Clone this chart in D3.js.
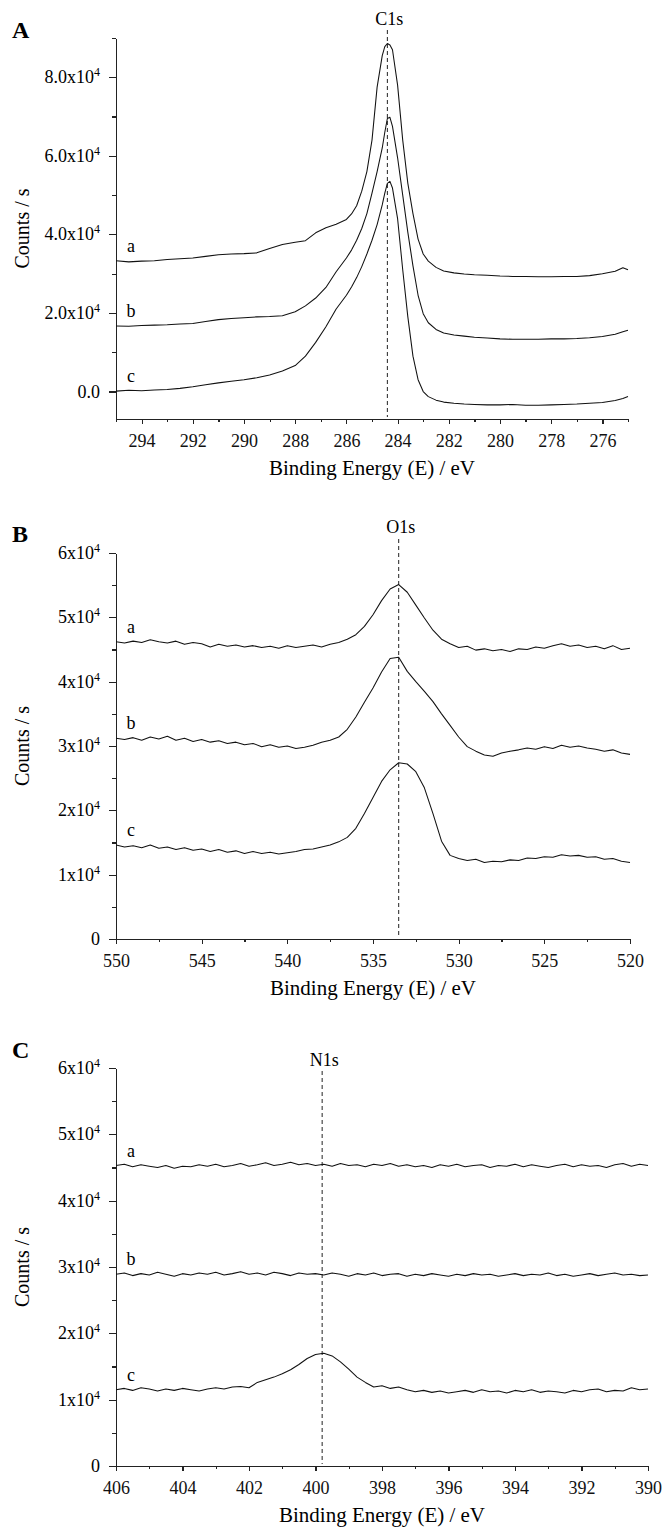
<!DOCTYPE html>
<meta charset="utf-8">
<head>
	<title>XPS C1s / O1s / N1s</title>
</head>

<style>
body{
	margin: 0;
	background: #fff;
}
svg{
	display: block;
	font-family: "Liberation Serif", "Times New Roman", serif;
}
.axis path, .axis line{
	stroke: #222;
	stroke-width: 1.2;
	shape-rendering: crispEdges;
}
.axis text{
	font-size: 18px;
	fill: #111;
}
.spec{
	fill: none;
	stroke: #111;
	stroke-width: 1.05;
	stroke-linejoin: round;
}
.peak{
	stroke: #222;
	stroke-width: 1;
	stroke-dasharray: 4,3;
}
</style>

<body>
<svg id="chart" width="666" height="1528"></svg>

<script src="https://cdnjs.cloudflare.com/ajax/libs/d3/7.8.5/d3.min.js"></script>
<script>

// ---- panel A : C1s (counts in 1e3 / s)
var c1sEnergy = [295, 294.5, 294, 293.5, 293, 292.5, 292, 291.5, 291, 290.5, 290, 289.5, 289, 288.5, 288, 287.6, 287.2, 286.8, 286.4, 286,
	285.8, 285.6, 285.4, 285.2, 285.0, 284.8, 284.6, 284.5, 284.4, 284.3, 284.2, 284.0, 283.8, 283.6, 283.4, 283.2, 283.0, 282.8, 282.5, 282.2,
	281.8, 281.4, 281, 280.5, 280, 279.5, 279, 278.5, 278, 277.5, 277, 276.5, 276, 275.5, 275.2, 275];
var c1sA = [33.3, 33.0, 33.2, 33.3, 33.6, 33.8, 34.0, 34.4, 34.8, 35.0, 35.1, 35.3, 36.4, 37.4, 38.0, 38.4, 40.4, 41.7, 42.6, 43.8,
	45.2, 47.3, 51.0, 56.0, 64.0, 77.5, 85.5, 87.8, 88.6, 88.2, 87.0, 78.0, 64.0, 53.0, 45.3, 38.8, 35.0, 33.2, 31.6, 30.7,
	30.2, 29.9, 29.7, 29.6, 29.4, 29.3, 29.3, 29.2, 29.2, 29.3, 29.3, 29.5, 30.0, 30.6, 31.5, 31.0];
var c1sB = [16.7, 16.6, 16.8, 16.9, 17.0, 17.2, 17.3, 17.8, 18.3, 18.6, 18.8, 19.0, 19.1, 19.3, 20.3, 21.8, 23.8, 26.5, 30.5, 34.0,
	36.0, 38.5, 41.5, 45.3, 50.5, 56.0, 62.0, 66.0, 69.5, 69.8, 67.5, 59.5, 50.0, 40.5, 32.0, 24.5, 19.8, 17.5, 15.8, 14.9,
	14.4, 14.1, 13.8, 13.6, 13.4, 13.3, 13.3, 13.3, 13.4, 13.4, 13.5, 13.7, 14.0, 14.6, 15.2, 15.6];
var c1sC = [0.1, 0.3, 0.2, 0.4, 0.5, 0.8, 1.2, 1.7, 2.2, 2.6, 3.0, 3.5, 4.2, 5.2, 6.6, 9.0, 12.5, 16.5, 21.0, 24.5,
	26.6, 29.0, 31.8, 35.0, 38.5, 42.5, 47.5, 50.5, 53.0, 53.5, 51.8, 44.0, 31.0, 19.0, 9.0, 3.0, 0.0, -1.3, -2.2, -2.7,
	-3.0, -3.2, -3.3, -3.4, -3.4, -3.3, -3.5, -3.5, -3.4, -3.3, -3.2, -3.0, -2.8, -2.3, -1.8, -1.3];

// ---- panel B : O1s
var o1sEnergy = [550, 549.5, 549, 548.5, 548, 547.5, 547, 546.5, 546, 545.5, 545, 544.5, 544, 543.5, 543, 542.5, 542, 541.5, 541, 540.5,
	540, 539.5, 539, 538.5, 538, 537.5, 537, 536.5, 536, 535.5, 535, 534.5, 534, 533.5, 533, 532.5, 532, 531.5, 531, 530.5,
	530, 529.5, 529, 528.5, 528, 527.5, 527, 526.5, 526, 525.5, 525, 524.5, 524, 523.5, 523, 522.5, 522, 521.5, 521, 520.5, 520];
var o1sA = [46.2, 46.0, 46.3, 46.1, 46.5, 46.2, 46.0, 46.3, 45.8, 46.1, 45.9, 45.4, 45.8, 45.5, 45.7, 45.4, 45.6, 45.3, 45.5, 45.2,
	45.6, 45.3, 45.5, 45.7, 45.4, 45.8, 46.1, 46.6, 47.3, 48.6, 50.4, 52.6, 54.4, 55.1, 53.9, 51.9, 49.9, 48.0, 46.6, 45.9,
	45.3, 45.5, 44.9, 45.1, 44.8, 45.0, 44.7, 45.1, 45.0, 45.4, 45.2, 45.6, 45.9, 45.5, 45.7, 45.3, 45.5, 45.1, 45.6, 45.0, 45.2];
var o1sB = [31.2, 31.0, 31.3, 30.9, 31.4, 31.1, 31.5, 30.9, 31.2, 30.7, 31.0, 30.6, 30.8, 30.4, 30.6, 30.2, 30.4, 29.9, 30.2, 29.8,
	30.0, 29.6, 29.8, 30.1, 30.6, 30.9, 31.4, 32.6, 34.5, 36.8, 39.0, 41.5, 43.6, 43.8, 41.6, 40.0, 38.5, 36.9, 35.0, 33.2,
	31.4, 29.9, 29.2, 28.6, 28.4, 28.9, 29.2, 29.4, 29.7, 29.5, 29.9, 29.6, 30.1, 29.8, 30.0, 29.7, 29.5, 29.2, 29.4, 28.9, 28.7];
var o1sC = [14.6, 14.3, 14.5, 14.2, 14.6, 14.1, 14.3, 13.9, 14.2, 13.8, 14.0, 13.6, 13.9, 13.5, 13.7, 13.3, 13.6, 13.3, 13.5, 13.2,
	13.4, 13.6, 13.9, 14.0, 14.3, 14.6, 15.1, 15.8, 17.2, 19.5, 22.0, 24.5, 26.3, 27.4, 27.2, 26.0, 23.5, 19.5, 15.2, 13.0,
	12.5, 12.2, 12.4, 11.9, 12.1, 12.0, 12.3, 12.2, 12.6, 12.5, 12.8, 12.7, 13.1, 12.9, 13.0, 12.7, 12.8, 12.4, 12.5, 12.1, 11.9];

// ---- panel C : N1s
var n1sEnergy = [406, 405.75, 405.5, 405.25, 405, 404.75, 404.5, 404.25, 404, 403.75, 403.5, 403.25, 403, 402.75, 402.5, 402.25,
	402, 401.75, 401.5, 401.25, 401, 400.75, 400.5, 400.25, 400, 399.75, 399.5, 399.25, 399, 398.75, 398.5, 398.25,
	398, 397.75, 397.5, 397.25, 397, 396.75, 396.5, 396.25, 396, 395.75, 395.5, 395.25, 395, 394.75, 394.5, 394.25,
	394, 393.75, 393.5, 393.25, 393, 392.75, 392.5, 392.25, 392, 391.75, 391.5, 391.25, 391, 390.75, 390.5, 390.25, 390];
var n1sA = [45.3, 45.5, 45.1, 45.4, 45.2, 45.0, 45.3, 44.9, 45.2, 45.1, 45.4, 45.2, 45.5, 45.1, 45.3, 45.6, 45.2, 45.4, 45.7, 45.3,
	45.5, 45.8, 45.4, 45.6, 45.3, 45.5, 45.2, 45.6, 45.3, 45.4, 45.1, 45.5, 45.3, 45.6, 45.2, 45.4, 45.1, 45.3, 45.0, 45.4,
	45.2, 45.5, 45.1, 45.3, 45.4, 45.0, 45.3, 45.2, 45.5, 45.1, 45.4, 45.2, 45.0, 45.3, 45.5, 45.1, 45.4, 45.2, 45.3, 45.0,
	45.4, 45.6, 45.2, 45.5, 45.3];
var n1sB = [28.9, 29.1, 28.7, 29.0, 28.8, 29.2, 28.9, 28.6, 29.0, 28.8, 29.1, 28.9, 29.2, 28.8, 29.0, 29.3, 28.9, 29.1, 28.8, 29.2,
	29.0, 28.7, 29.1, 28.9, 29.0, 28.8, 29.1, 28.9, 28.6, 29.0, 28.8, 29.1, 28.7, 28.9, 29.0, 28.6, 28.9, 28.7, 29.0, 28.8,
	28.6, 28.9, 28.7, 29.0, 28.8, 28.9, 28.6, 28.8, 29.0, 28.7, 28.9, 28.8, 29.1, 28.7, 28.9, 28.6, 28.8, 29.0, 28.7, 28.9,
	29.1, 28.8, 28.9, 28.7, 28.8];
var n1sC = [11.5, 11.7, 11.4, 11.8, 11.6, 11.3, 11.6, 11.4, 11.7, 11.5, 11.3, 11.6, 11.8, 11.6, 11.9, 12.0, 11.8, 12.6, 13.0, 13.4,
	13.9, 14.5, 15.3, 16.2, 16.8, 17.0, 16.6, 15.7, 14.6, 13.4, 12.6, 11.9, 12.1, 11.7, 11.9, 11.5, 11.2, 11.4, 11.1, 11.3,
	11.0, 11.2, 11.4, 11.1, 11.5, 11.2, 11.3, 11.0, 11.4, 11.2, 11.5, 11.1, 11.3, 11.2, 11.0, 11.4, 11.2, 11.5, 11.6, 11.2,
	11.4, 11.3, 11.8, 11.5, 11.6];

var curveNames = ['a', 'b', 'c'];

// ticks
var xMajorA = [294, 292, 290, 288, 286, 284, 282, 280, 278, 276];
var xMinorA = [295, 293, 291, 289, 287, 285, 283, 281, 279, 277, 275];
var yMajorA = [0, 20000, 40000, 60000, 80000];
var yMinorA = [10000, 30000, 50000, 70000, 90000];
var yLabelsA = ['0.0', '2.0x10^4', '4.0x10^4', '6.0x10^4', '8.0x10^4'];

var xMajorB = [550, 545, 540, 535, 530, 525, 520];
var xMinorB = [547.5, 542.5, 537.5, 532.5, 527.5, 522.5];
var xMajorC = [406, 404, 402, 400, 398, 396, 394, 392, 390];
var xMinorC = [405, 403, 401, 399, 397, 395, 393, 391];
var yMajorBC = [0, 10000, 20000, 30000, 40000, 50000, 60000];
var yMinorBC = [5000, 15000, 25000, 35000, 45000, 55000];
var yLabelsBC = ['0', '1x10^4', '2x10^4', '3x10^4', '4x10^4', '5x10^4', '6x10^4'];

var panels = [
	{letter: 'A', letterY: 38, energy: c1sEnergy, series: [c1sA, c1sB, c1sC],
	 xDomain: [295, 275], yDomain: [-7000, 90000], left: 116, right: 628, top: 38, bottom: 419,
	 xMajor: xMajorA, xMinor: xMinorA, yMajor: yMajorA, yMinor: yMinorA, yLabels: yLabelsA,
	 peak: 284.4, peakName: 'C1s', peakLabelY: 25, dashTop: 30},
	{letter: 'B', letterY: 542, energy: o1sEnergy, series: [o1sA, o1sB, o1sC],
	 xDomain: [550, 520], yDomain: [0, 60000], left: 116, right: 630, top: 553, bottom: 939,
	 xMajor: xMajorB, xMinor: xMinorB, yMajor: yMajorBC, yMinor: yMinorBC, yLabels: yLabelsBC,
	 peak: 533.5, peakName: 'O1s', peakLabelY: 533, dashTop: 539},
	{letter: 'C', letterY: 1058, energy: n1sEnergy, series: [n1sA, n1sB, n1sC],
	 xDomain: [406, 390], yDomain: [0, 60000], left: 116, right: 648, top: 1068, bottom: 1466,
	 xMajor: xMajorC, xMinor: xMinorC, yMajor: yMajorBC, yMinor: yMinorBC, yLabels: yLabelsBC,
	 peak: 399.8, peakName: 'N1s', peakLabelY: 1066, dashTop: 1071}
];

var svg = d3.select('#chart');

function drawPanel(p){
	var x = d3.scaleLinear().domain(p.xDomain).range([p.left, p.right]);
	var y = d3.scaleLinear().domain(p.yDomain).range([p.bottom, p.top]);
	var g = svg.append('g');

	// x axis
	g.append('g').attr('class', 'axis')
		.attr('transform', 'translate(0,' + p.bottom + ')')
		.call(d3.axisBottom(x).tickValues(p.xMinor).tickSize(3).tickSizeOuter(0).tickFormat(''));
	var xa = g.append('g').attr('class', 'axis')
		.attr('transform', 'translate(0,' + p.bottom + ')')
		.call(d3.axisBottom(x).tickValues(p.xMajor).tickSize(5).tickSizeOuter(0).tickFormat(d3.format('d')));
	xa.attr('font-size', null).attr('font-family', null);
	xa.selectAll('text').attr('y', 15);

	// y axis
	g.append('g').attr('class', 'axis')
		.attr('transform', 'translate(' + p.left + ',0)')
		.call(d3.axisLeft(y).tickValues(p.yMinor).tickSize(4).tickSizeOuter(0).tickFormat(''));
	var ya = g.append('g').attr('class', 'axis')
		.attr('transform', 'translate(' + p.left + ',0)')
		.call(d3.axisLeft(y).tickValues(p.yMajor).tickSize(7).tickSizeOuter(0).tickFormat(''));
	ya.attr('font-size', null).attr('font-family', null);

	p.yMajor.forEach(function(v, i){
		var parts = p.yLabels[i].split('^');
		var t = g.append('text')
			.attr('x', p.left - 16)
			.attr('y', y(v) + 6)
			.attr('text-anchor', 'end')
			.style('font-size', '18px');
		t.append('tspan').text(parts[0]);
		if(parts[1]){
			t.append('tspan').attr('dy', -7).style('font-size', '12px').text(parts[1]);
		}
	});

	// peak position
	g.append('line').attr('class', 'peak')
		.attr('x1', x(p.peak)).attr('x2', x(p.peak))
		.attr('y1', p.dashTop).attr('y2', p.bottom - 2);
	g.append('text')
		.attr('x', x(p.peak) + 2)
		.attr('y', p.peakLabelY)
		.attr('text-anchor', 'middle')
		.style('font-size', '18px')
		.text(p.peakName);

	// spectra
	var line = d3.line()
		.x(function(d){ return x(d[0]); })
		.y(function(d){ return y(d[1] * 1000); });

	p.series.forEach(function(s, k){
		var pts = p.energy.map(function(e, i){ return [e, s[i]]; });
		g.append('path').attr('class', 'spec').attr('d', line(pts));
		g.append('text')
			.attr('x', x(pts[0][0]) + 15)
			.attr('y', y(pts[0][1] * 1000) - 9)
			.attr('text-anchor', 'middle')
			.style('font-size', '18px')
			.text(curveNames[k]);
	});

	// titles
	g.append('text')
		.attr('x', (p.left + p.right) / 2)
		.attr('y', p.bottom + 56)
		.attr('text-anchor', 'middle')
		.style('font-size', '21px')
		.text('Binding Energy (E) / eV');
	g.append('text')
		.attr('transform', 'translate(29,' + (p.top + p.bottom) / 2 + ') rotate(-90)')
		.attr('text-anchor', 'middle')
		.style('font-size', '20px')
		.text('Counts / s');
	g.append('text')
		.attr('x', 12)
		.attr('y', p.letterY)
		.style('font-size', '24px')
		.style('font-weight', 'bold')
		.text(p.letter);
}

panels.forEach(drawPanel);

</script>
</body>
</html>
